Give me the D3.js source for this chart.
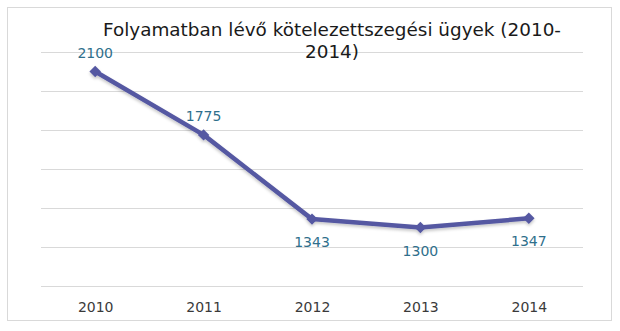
<!DOCTYPE html>
<html>
<head>
<meta charset="utf-8">
<script src="https://cdn.jsdelivr.net/npm/d3@7"></script>
<style>
  html, body { margin: 0; padding: 0; background: #fff; }
  svg { display: block; }
</style>
</head>
<body>
<svg id="chart" width="620" height="331"></svg>
<script>
// Chart data
const years = ["2010", "2011", "2012", "2013", "2014"];
const cases = [2100, 1775, 1343, 1300, 1347];
const gridValues = [1000, 1200, 1400, 1600, 1800, 2000, 2200];
const labelAbove = [true, true, false, false, false];
const titleLines = ["Folyamatban lévő kötelezettszegési ügyek (2010-", "2014)"];

const svg = d3.select("#chart");
const plot = { left: 41, right: 583, top: 52, bottom: 286 };
const FONT = "DejaVu Sans, Verdana, sans-serif";

// Outer frame
svg.append("rect")
  .attr("x", 7.5).attr("y", 7.5)
  .attr("width", 604).attr("height", 313)
  .attr("fill", "#fff")
  .attr("stroke", "#d9d9d9").attr("stroke-width", 1);

const x = d3.scalePoint().domain(years)
  .range([plot.left, plot.right]).padding(0.5);
const y = d3.scaleLinear().domain([1000, 2200])
  .range([plot.bottom, plot.top]);

// Horizontal gridlines
svg.append("g").selectAll("line").data(gridValues).join("line")
  .attr("x1", plot.left).attr("x2", plot.right)
  .attr("y1", d => Math.round(y(d)) + 0.5).attr("y2", d => Math.round(y(d)) + 0.5)
  .attr("stroke", "#d9d9d9").attr("stroke-width", 1);

// Category axis labels
const xAxis = d3.axisBottom(x).tickSize(0).tickPadding(0);
const gx = svg.append("g").attr("transform", `translate(0,${plot.bottom + 26})`).call(xAxis);
gx.select(".domain").remove();
gx.selectAll("text")
  .attr("dy", 0)
  .attr("font-family", FONT)
  .attr("font-size", 14)
  .attr("fill", "#3a3a3a");

// Title
svg.append("text")
  .attr("x", 332).attr("y", 36)
  .attr("text-anchor", "middle")
  .attr("font-family", FONT)
  .attr("font-size", 18.4)
  .attr("fill", "#1a1a1a")
  .selectAll("tspan").data(titleLines).join("tspan")
  .attr("x", 332).attr("dy", (d, i) => i === 0 ? 0 : 22)
  .text(d => d);

// Soft shadow under the series line
const defs = svg.append("defs");
const f = defs.append("filter").attr("id", "shadow")
  .attr("x", "-10%").attr("y", "-10%").attr("width", "120%").attr("height", "130%");
f.append("feDropShadow").attr("dx", 0).attr("dy", 2).attr("stdDeviation", 1.5)
  .attr("flood-color", "#000").attr("flood-opacity", 0.22);

const pts = years.map((yr, i) => ({ yr, v: cases[i], above: labelAbove[i] }));

const series = svg.append("g").attr("filter", "url(#shadow)");
series.append("path")
  .datum(pts)
  .attr("fill", "none")
  .attr("stroke", "#5558a2")
  .attr("stroke-width", 4.5)
  .attr("stroke-linejoin", "round")
  .attr("d", d3.line().x(d => x(d.yr)).y(d => y(d.v)));

series.selectAll("path.marker").data(pts).join("path")
  .attr("class", "marker")
  .attr("d", d3.symbol(d3.symbolDiamond2, 84))
  .attr("transform", d => `translate(${x(d.yr)},${y(d.v)})`)
  .attr("fill", "#5558a2");

// Value labels
svg.append("g").selectAll("text").data(pts).join("text")
  .attr("x", d => x(d.yr))
  .attr("y", d => y(d.v) + (d.above ? -14 : 28))
  .attr("text-anchor", "middle")
  .attr("font-family", FONT)
  .attr("font-size", 14)
  .attr("fill", "#2f6f8c")
  .text(d => d.v);
</script>
</body>
</html>
